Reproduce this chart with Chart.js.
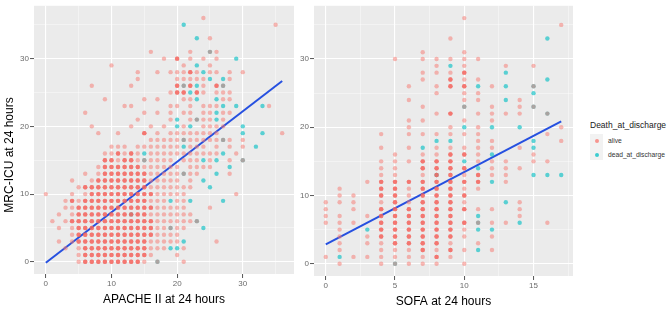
<!DOCTYPE html>
<html>
<head>
<meta charset="utf-8">
<script src="https://cdn.jsdelivr.net/npm/chart.js@4/dist/chart.umd.min.js"></script>
<style>
  body { margin: 0; background: #fff; width: 669px; height: 309px; position: relative; overflow: hidden; font-family: 'Liberation Sans', Arial, sans-serif; }
  canvas { position: absolute; top: 0; }
  .abs { position: absolute; white-space: nowrap; }
</style>
</head>
<body>
<canvas id="apache-chart" width="298" height="309" style="left:0"></canvas>
<canvas id="sofa-chart" width="281" height="309" style="left:296px"></canvas>

<div class="abs" style="left:-56px;top:148px;width:130px;height:14px;line-height:14px;font-size:12px;color:#000;text-align:center;transform:rotate(-90deg)">MRC-ICU at 24 hours</div>

<div class="abs" style="left:590px;top:120px;font-size:8.5px;line-height:10px;color:#1a1a1a">Death_at_discharge</div>
<div class="abs" style="left:590px;top:134px;width:13px;height:26px;background:#F2F2F2"></div>
<div class="abs" style="left:595px;top:139px;width:4px;height:4px;border-radius:50%;background:rgba(248,118,109,0.75)"></div>
<div class="abs" style="left:595px;top:153px;width:4px;height:4px;border-radius:50%;background:rgba(0,191,196,0.75)"></div>
<div class="abs" style="left:608px;top:136px;font-size:6.7px;line-height:10px;color:#333">alive</div>
<div class="abs" style="left:608px;top:150px;font-size:6.7px;line-height:10px;color:#333">dead_at_discharge</div>

<script>
// Index of each row = MRC-ICU score; values = scores on the x axis

// APACHE II (left panel)
const apacheAlive = [
    [5,6,7,8,9,10,11,12,13,14,15,17,21],                    // 0
    [5,6,7,8,9,10,11,12,13,14,15,16,20],                    // 1
    [3,5,6,7,8,9,10,11,12,13,14,15,16,17,18,21],            // 2
    [2,4,5,6,7,8,9,10,11,12,13,14,15,16,17,18,19,20,26],    // 3
    [4,5,6,7,8,9,10,11,12,13,14,15,16,17,18,19,20],         // 4
    [2,4,5,6,7,8,9,10,11,12,13,14,15,16,17,18,19,20,21],    // 5
    [1,3,4,5,6,7,8,9,10,11,12,13,14,15,16,17,18,19,20,21,22,23],
    [2,4,5,6,7,8,9,10,11,12,13,14,15,16,17,18,19,20,21,22],
    [3,4,5,6,7,8,9,10,11,12,13,14,15,16,17,18,19,20,21,25],
    [3,4,5,6,7,8,9,10,11,12,13,14,15,16,17,18,20,21],
    [0,4,6,7,8,9,10,11,12,13,14,15,16,17,18,19,20,21,29],  // 10
    [5,6,7,8,9,10,11,12,13,14,15,16,17,18,19,20,21,22],
    [4,7,8,9,10,11,12,13,14,15,16,17,18,19,20,22],
    [6,8,9,10,11,12,13,14,15,16,17,18,19,20,21,22,23,28],
    [8,9,10,11,12,13,14,15,16,17,18,19,20,22,23,24,25],
    [9,10,11,12,13,14,15,16,17,18,19,21,22,23,25,28,30],
    [9,10,11,12,13,14,16,17,18,19,20,21,22,23,24,25,26,29],
    [10,11,12,14,15,16,17,18,19,20,22,23,24,26,28,30],
    [16,17,18,19,20,21,22,23,24,25,26,27,28,30],
    [8,11,15,17,19,20,21,22,23,24,25,26,36],
    [7,13,16,18,21,24,25,26,27],                             // 20
    [14,19,22,23,24,25,27],
    [6,15,17,19,21,22,24,25,27,28],
    [12,13,19,20,22,24,25,26,34],
    [9,15,17,21,22,27,28],
    [19,20,21,23,24,26,27,28],
    [7,13,20,21,22,24,26,27],
    [14,20,21,22,23,24,28],
    [14,17,19,20,21,22,23,25,26,28,30],
    [10,21,25],
    [18,20,22,24,26],                                        // 30
    [16,22,25,26],
    [],
    [25],
    [],
    [35],
    [24]
];
// cells where many patients overlap (drawn a second time)
const apacheAliveDense = [
    [6,7,8,9,10,11,12,13,14],
    [6,7,8,9,10,11,12,13,14,15],
    [6,7,8,9,10,11,12,13,14,15],
    [5,6,7,8,9,10,11,12,13,14,15],
    [5,6,7,8,9,10,11,12,13,14,15,16],
    [5,6,7,8,9,10,11,12,13,14,15,16],
    [4,5,6,7,8,9,10,11,12,13,14,15,16],
    [5,6,7,8,9,10,11,12,13,14,15],
    [5,6,7,8,9,10,11,12,13,14,15,16],
    [4,6,7,8,9,10,11,12,13,14,15],
    [7,8,9,10,11,12,13,14,15,16],
    [6,7,8,9,10,11,12,13,14,15],
    [8,9,10,11,12,13,14,15],
    [9,10,11,12,13,14,15],
    [9,10,11,12,13,14],
    [9,10,12,13],
    [11,13],
    [],
    [],
    [15],
    [],
    [],
    [],
    [],
    [],
    [20,21,23],
    [20,22,26],
    [],
    [22],
    [],
    [20]
];
const apacheDead = [
    [17], [], [19,20], [21], [], [19,24], [23], [13], [], [19,22,27],
    [], [25], [24], [21,26], [28], [15,24,26,30], [15,27], [21,32], [21,27], [30,33],
    [20,22,30], [20,23,26], [26], [27,29,33], [23,26], [22], [21,23,27], [25,27], [24], [23],
    [29], [25], [], [23], [], [21]
];
const apacheFitX = [0, 36];
const apacheFitY = [-0.15, 26.7];

// SOFA (right panel)
const sofaAlive = [
    [1,4,5,6,7,8,10],                    // 0
    [0,2,3,4,5,6,7,8,9],                 // 1
    [1,4,5,6,7,8,9,10,12],               // 2
    [1,3,4,5,6,7,8,9,11],                // 3
    [1,3,4,5,6,7,8,9,10,12],             // 4
    [1,4,5,6,7,8,9,10],                  // 5
    [0,1,2,4,5,6,7,8,9,10,11,12,13,16],  // 6
    [0,1,3,4,5,6,7,8,9,14],              // 7
    [0,2,4,5,6,7,8,9,10,11,12,14],       // 8
    [0,1,2,4,5,6,7,8,9,10,14],           // 9
    [1,2,4,5,6,7,8,9,10],                // 10
    [1,4,5,6,7,8,9,10,11],
    [3,4,5,6,7,8,9,10,11,13],
    [4,5,7,8,9,10,11,12,13],
    [4,5,7,8,9,10,12,13,14],
    [4,5,6,7,8,9,11,12,13,15,16],
    [5,7,8,9,10,11,15],
    [4,6,8,9,10,11,12,14],
    [11,12,17],
    [4,6,7,8,9,10,11,16],
    [6,9,11,17],                         // 20
    [6,7,10,12],
    [8,9,11,12,13,14,16],
    [7,10,12,14,15],
    [6,10,11,14],
    [8,10,11],
    [6,8,9,10,12,15],
    [7,9,10,11],
    [7,8,9,10],
    [8,10,13,15],
    [5,7,8,9,10,11],                     // 30
    [7,10],
    [],
    [9],
    [],
    [17],
    [10]
];
const sofaAliveDense = [
    [], [8], [7,9], [5,6,7,8], [4,5,6,7,8,9], [4,5,6,7,8,9], [4,5,6,7,8,9,10], [4,5,6,7,8,9],
    [4,5,6,7,8,9,10], [5,7,8,9], [4,5,7,8,9,10], [4,5,7,8,9], [4,5,6,7,8,9,10,11], [8,9,11],
    [7,8,9,10], [7,8,9], [9,10], [], [], [], [], [], [9], [], [], [], [9,10], [9], [10]
];
const sofaDead = [
    [5], [1], [11], [], [], [3,11,12], [11,14], [11], [], [13],
    [], [], [12], [8,15,16,17], [11], [10], [12], [7,15], [8,9,15], [],
    [10,12,14], [], [16], [10,15], [13], [15], [11,13,15], [16], [13], [9],
    [], [], [], [16]
];
const sofaFitX = [0, 17];
const sofaFitY = [2.85, 20.85];

const yTickValues = [0, 5, 10, 15, 20, 25, 30, 35];
const apacheTickValues = [0, 5, 10, 15, 20, 25, 30, 35];
const sofaTickValues = [0, 2.5, 5, 7.5, 10, 12.5, 15, 17.5];

const ALIVE = 'rgba(248,118,109,0.5)';
const ALIVE_DENSE = 'rgba(240,72,66,0.72)';
const DEAD = 'rgba(0,191,196,0.62)';
const FIT = '#2650E0';

function rowsToPoints(rows) {
    return rows.flatMap((xs, y) => xs.map(x => ({ x: x, y: y })));
}

// Fond gris du panneau (style ggplot)
const panelBg = {
    id: 'panelBg',
    beforeDraw(chart) {
        const { ctx, chartArea: a } = chart;
        ctx.save();
        ctx.fillStyle = '#EBEBEB';
        ctx.fillRect(a.left, a.top, a.right - a.left, a.bottom - a.top);
        ctx.restore();
    }
};

function buildAxis(tickValues, major, min, max, fit) {
    const isMajor = c => c.tick && Math.abs(c.tick.value % major) < 1e-9;
    return {
        type: 'linear',
        min: min,
        max: max,
        afterBuildTicks: scale => { scale.ticks = tickValues.map(v => ({ value: v })); },
        afterFit: fit,
        border: { display: false },
        grid: {
            color: c => isMajor(c) ? '#FFFFFF' : 'rgba(255,255,255,0.75)',
            lineWidth: c => isMajor(c) ? 1.1 : 0.55,
            tickColor: c => isMajor(c) ? '#555' : 'rgba(0,0,0,0)',
            tickWidth: 1,
            tickLength: 4,
            drawTicks: true
        },
        ticks: {
            autoSkip: false,
            maxRotation: 0,
            padding: 1,
            color: '#6b6b6b',
            font: { size: 8 },
            callback: v => Math.abs(v % major) < 1e-9 ? String(v) : ''
        }
    };
}

function makeChart(id, o) {
    const ctx = document.getElementById(id);
    const xAxis = buildAxis(o.xTicks, o.xMajor, o.xMin, o.xMax, s => { s.height = o.xHeight; });
    xAxis.title = { display: true, text: o.xTitle, color: '#000', font: { size: 12 }, padding: { top: 0, bottom: o.titlePad } };
    const yAxis = buildAxis(yTickValues, 10, -1.8, 37.8, s => { s.width = o.yWidth; });

    return new Chart(ctx, {
        type: 'scatter',
        data: {
            datasets: [
                { label: 'alive', data: rowsToPoints(o.alive), backgroundColor: ALIVE, pointRadius: 2.2, borderWidth: 0 },
                { label: 'alive', data: rowsToPoints(o.aliveDense), backgroundColor: ALIVE_DENSE, pointRadius: 2.2, borderWidth: 0 },
                { label: 'dead_at_discharge', data: rowsToPoints(o.dead), backgroundColor: DEAD, pointRadius: 2.2, borderWidth: 0 },
                {
                    label: 'fit',
                    data: o.fitX.map((x, i) => ({ x: x, y: o.fitY[i] })),
                    showLine: true,
                    borderColor: FIT,
                    borderWidth: 2,
                    pointRadius: 0,
                    fill: false
                }
            ]
        },
        options: {
            responsive: false,
            devicePixelRatio: 1,
            animation: false,
            layout: { padding: { top: 5, left: 0, right: 0, bottom: 0 } },
            plugins: { legend: { display: false }, tooltip: { enabled: false } },
            scales: { x: xAxis, y: yAxis }
        },
        plugins: [panelBg]
    });
}

Chart.defaults.font.family = "'Liberation Sans', Arial, sans-serif";

makeChart('apache-chart', {
    alive: apacheAlive, aliveDense: apacheAliveDense, dead: apacheDead,
    fitX: apacheFitX, fitY: apacheFitY,
    xTicks: apacheTickValues, xMajor: 10, xMin: -1.8, xMax: 37.8,
    xTitle: 'APACHE II at 24 hours', xHeight: 35, yWidth: 34, titlePad: 2
});

makeChart('sofa-chart', {
    alive: sofaAlive, aliveDense: sofaAliveDense, dead: sofaDead,
    fitX: sofaFitX, fitY: sofaFitY,
    xTicks: sofaTickValues, xMajor: 5, xMin: -0.85, xMax: 17.85,
    xTitle: 'SOFA at 24 hours', xHeight: 33, yWidth: 18, titlePad: 0
});
</script>
</body>
</html>
